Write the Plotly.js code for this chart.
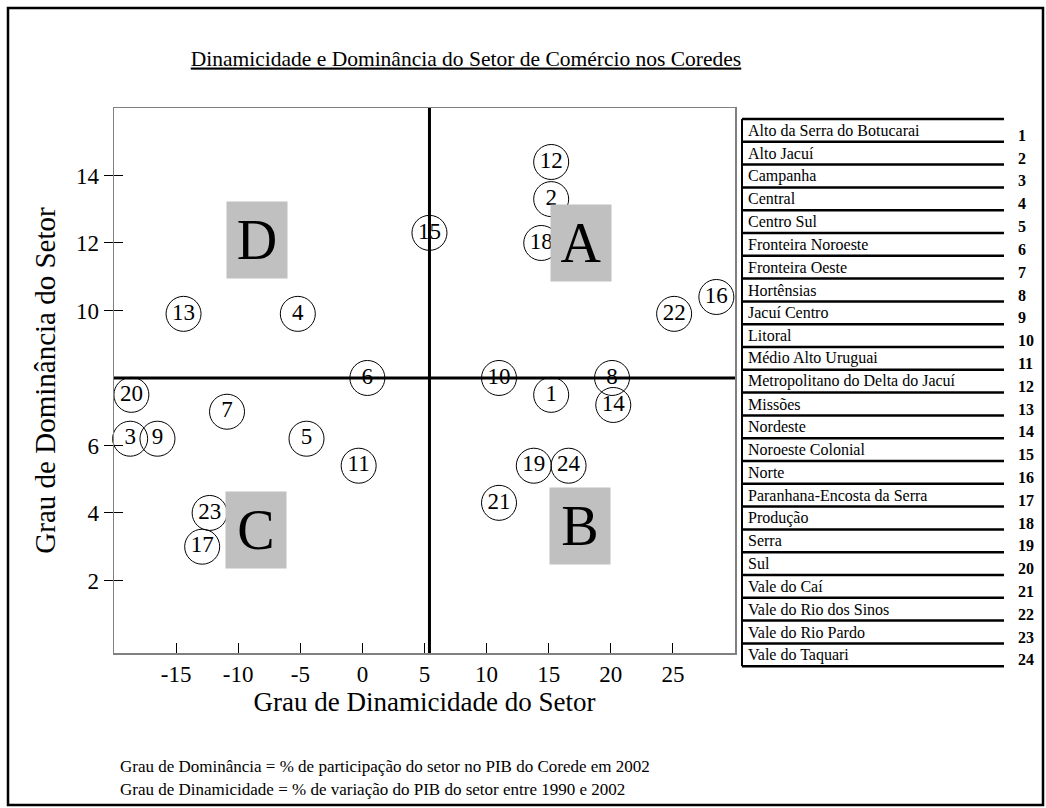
<!DOCTYPE html>
<html>
<head>
<meta charset="utf-8">
<script src="https://cdn.plot.ly/plotly-3.0.1.min.js"></script>
<style>
  html, body { margin: 0; padding: 0; background: #fff; }
  #chart { width: 1046px; height: 808px; }
</style>
</head>
<body>
<div id="chart"></div>
<script>
// Coredes (numbered 1..24 in this order)
const coredes = [
    "Alto da Serra do Botucarai", "Alto Jacuí", "Campanha", "Central", "Centro Sul",
    "Fronteira Noroeste", "Fronteira Oeste", "Hortênsias", "Jacuí Centro", "Litoral",
    "Médio Alto Uruguai", "Metropolitano do Delta do Jacuí", "Missões", "Nordeste",
    "Noroeste Colonial", "Norte", "Paranhana-Encosta da Serra", "Produção", "Serra",
    "Sul", "Vale do Caí", "Vale do Rio dos Sinos", "Vale do Rio Pardo", "Vale do Taquari"
];

// Grau de Dinamicidade (x) and Grau de Dominância (y)
const dinamicidade = [15.2, 15.2, -18.7, -5.2, -4.5, 0.4, -10.9, 20.1, -16.5, 11.0, -0.3, 15.2,
    -14.4, 20.2, 5.4, 28.5, -12.9, 14.4, 13.8, -18.6, 11.0, 25.1, -12.3, 16.6];
const dominancia = [7.5, 13.3, 6.2, 9.9, 6.2, 8.0, 7.0, 8.0, 6.2, 8.0, 5.4, 14.4,
    9.9, 7.2, 12.3, 10.4, 3.0, 12.0, 5.4, 7.5, 4.3, 9.9, 4.0, 5.4];

// quadrant labels
const quadLetters = ["A", "B", "C", "D"];
const quadX = [17.6, 17.5, -8.6, -8.5];
const quadY = [12.0, 3.6, 3.5, 12.1];

// dividing lines
const corteX = 5.4;
const corteY = 8;

const xTicks = [-15, -10, -5, 0, 5, 10, 15, 20, 25];
const yTicks = [2, 4, 6, 10, 12, 14];

const notas = [
    "Grau de Dominância = % de participação do setor no PIB do Corede em 2002",
    "Grau de Dinamicidade = % de variação do PIB do setor entre 1990 e 2002"
];

const W = 1046, H = 808;
const M = {l: 114, r: 311, t: 108, b: 155};
const PW = W - M.l - M.r, PH = H - M.t - M.b;
const SERIF = "Liberation Serif";

// pixel -> paper helpers for the decorations outside the plot
const px = v => (v - M.l) / PW;
const py = v => (H - M.b - v) / PH;

const labels = coredes.map((_, i) => String(i + 1));

const data = [
    {
        x: dinamicidade,
        y: dominancia,
        text: labels,
        mode: "markers+text",
        type: "scatter",
        textposition: "middle center",
        textfont: {family: SERIF, size: 23, color: "#000"},
        marker: {size: 35, color: "rgba(0,0,0,0)", line: {color: "#000", width: 1}},
        hovertext: coredes,
        hoverinfo: "text",
        showlegend: false,
        cliponaxis: false
    },
    // second y axis only to get ticks crossing the axis line
    {x: [], y: [], yaxis: "y2", showlegend: false}
];

const shapes = [
    {type: "line", xref: "x", yref: "paper", x0: corteX, x1: corteX, y0: 0, y1: 1,
        line: {color: "#000", width: 3}},
    {type: "line", xref: "paper", yref: "y", x0: 0, x1: 1, y0: corteY, y1: corteY,
        line: {color: "#000", width: 3}},
    // outer frame
    {type: "rect", xref: "paper", yref: "paper", x0: px(8), x1: px(1043), y0: py(8), y1: py(805),
        line: {color: "#000", width: 2.5}}
];

const annotations = [];

quadLetters.forEach((q, i) => {
    annotations.push({
        x: quadX[i], y: quadY[i], xref: "x", yref: "y",
        text: q, showarrow: false,
        bgcolor: "#c0c0c0", width: 58, height: 74,
        font: {family: SERIF, size: 56, color: "#000"}
    });
});

// table of coredes on the right
const tabLeft = 742, tabRight = 1004, tabTop = 119, rowH = 22.8;
shapes.push({type: "line", xref: "paper", yref: "paper",
    x0: px(tabLeft), x1: px(tabLeft), y0: py(tabTop), y1: py(tabTop + rowH * coredes.length),
    line: {color: "#000", width: 2}});
for (let i = 0; i <= coredes.length; i++) {
    const yy = tabTop + rowH * i;
    shapes.push({type: "line", xref: "paper", yref: "paper",
        x0: px(tabLeft), x1: px(tabRight), y0: py(yy), y1: py(yy),
        line: {color: "#000", width: 2.5}});
}
coredes.forEach((nome, i) => {
    const yc = tabTop + rowH * (i + 0.5);
    annotations.push({
        xref: "paper", yref: "paper", x: px(tabLeft + 4), y: py(yc),
        xanchor: "left", yanchor: "middle", showarrow: false,
        text: nome, font: {family: SERIF, size: 16, color: "#000"}
    });
    annotations.push({
        xref: "paper", yref: "paper", x: px(tabRight + 12), y: py(yc + 5),
        xanchor: "left", yanchor: "middle", showarrow: false,
        text: "<b>" + labels[i] + "</b>", font: {family: SERIF, size: 16, color: "#000"}
    });
});

notas.forEach((n, i) => {
    annotations.push({
        xref: "paper", yref: "paper", x: px(118), y: py(766 + 23 * i),
        xanchor: "left", yanchor: "middle", showarrow: false,
        text: n, font: {family: SERIF, size: 17, color: "#000"}
    });
});

const layout = {
    width: W,
    height: H,
    margin: M,
    paper_bgcolor: "#fff",
    plot_bgcolor: "#fff",
    font: {family: SERIF, color: "#000"},
    title: {
        text: "<u>Dinamicidade e Dominância do Setor de Comércio nos Coredes</u>",
        font: {family: SERIF, size: 21.5, color: "#000"},
        x: px(466), xanchor: "center", xref: "paper",
        y: 1 - 58 / H, yanchor: "middle"
    },
    xaxis: {
        range: [-20, 30],
        tickvals: xTicks,
        ticktext: xTicks.map(String),
        ticks: "inside", ticklen: 10, tickcolor: "#000", tickwidth: 1,
        tickfont: {family: SERIF, size: 23},
        showgrid: false, zeroline: false,
        showline: true, linecolor: "#808080", linewidth: 1.5, mirror: true,
        title: {text: "Grau de Dinamicidade do Setor", font: {family: SERIF, size: 27}, standoff: 2}
    },
    yaxis: {
        range: [-0.15, 16],
        tickvals: yTicks,
        ticks: "outside", ticklen: 9, tickcolor: "#000", tickwidth: 1,
        tickfont: {family: SERIF, size: 23},
        showgrid: false, zeroline: false,
        showline: true, linecolor: "#808080", linewidth: 1.5, mirror: true,
        title: {text: "Grau de Dominância do Setor", font: {family: SERIF, size: 29}, standoff: 12}
    },
    yaxis2: {
        overlaying: "y", side: "left",
        range: [-0.15, 16],
        tickvals: yTicks,
        ticks: "inside", ticklen: 9, tickcolor: "#000", tickwidth: 1,
        showticklabels: false, showgrid: false, zeroline: false, showline: false
    },
    shapes: shapes,
    annotations: annotations,
    showlegend: false
};

Plotly.newPlot("chart", data, layout, {displayModeBar: false, staticPlot: true});
</script>
</body>
</html>
